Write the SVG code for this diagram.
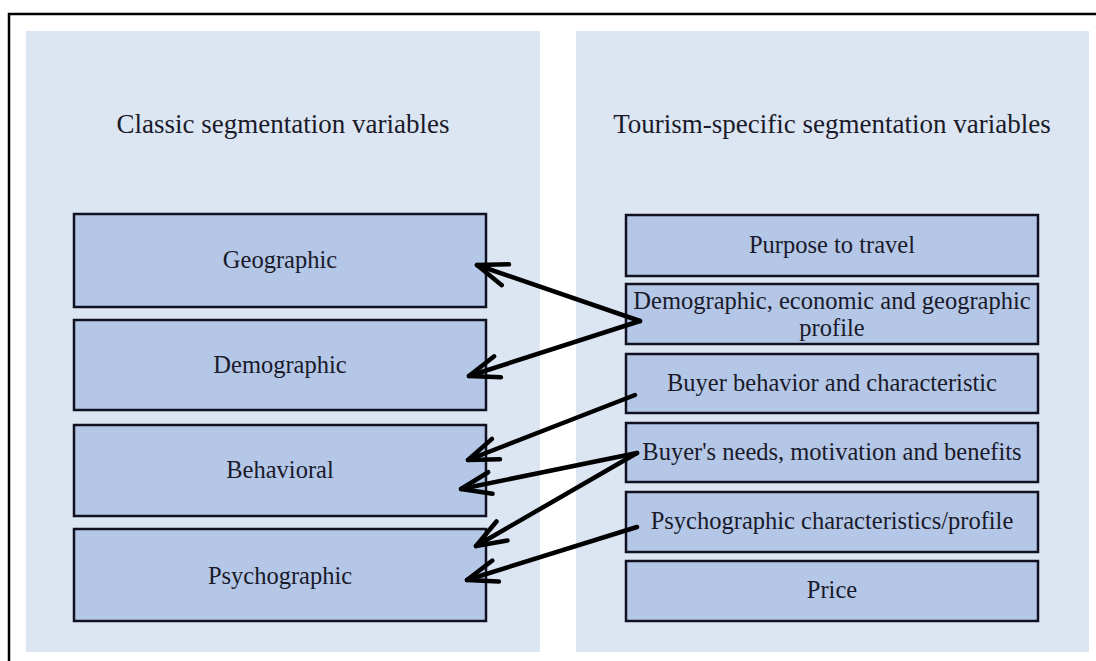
<svg xmlns="http://www.w3.org/2000/svg" width="1096" height="661" viewBox="0 0 1096 661">
<defs>
<style>
.panel{fill:#dce6f2;}
.box{fill:#b4c7e7;stroke:#111122;stroke-width:2.5;}
.t{font-family:"Liberation Serif","Times New Roman",serif;fill:#1a1a2a;text-anchor:middle;}
.title{font-size:27px;}
.lbl{font-size:24.5px;}
.arr{fill:none;stroke:#000;stroke-width:4.5;stroke-linecap:round;stroke-linejoin:round;}
</style>
<marker id="ah" viewBox="0 0 36 28" refX="33" refY="14" markerWidth="36" markerHeight="28" markerUnits="userSpaceOnUse" orient="auto">
<path d="M3,3 L33,14 L3,25" fill="none" stroke="#000" stroke-width="4.5" stroke-linecap="round" stroke-linejoin="round"/>
</marker>
</defs>
<rect x="0" y="0" width="1096" height="661" fill="#ffffff"/>
<rect x="9" y="14" width="1100" height="660" fill="none" stroke="#000" stroke-width="2.5"/>
<g id="panel-classic">
<rect class="panel" x="26" y="31" width="514" height="621"/>
<text class="t title" x="283" y="133">Classic segmentation variables</text>
</g>
<g id="panel-tourism">
<rect class="panel" x="576" y="31" width="513" height="621"/>
<text class="t title" x="832" y="133">Tourism-specific segmentation variables</text>
</g>
<g id="geographic"><rect class="box" x="74" y="214" width="412" height="93"/><text class="t lbl" x="280" y="268">Geographic</text></g>
<g id="demographic"><rect class="box" x="74" y="320" width="412" height="90"/><text class="t lbl" x="280" y="373">Demographic</text></g>
<g id="behavioral"><rect class="box" x="74" y="425" width="412" height="91"/><text class="t lbl" x="280" y="478">Behavioral</text></g>
<g id="psychographic"><rect class="box" x="74" y="529" width="412" height="92"/><text class="t lbl" x="280" y="584">Psychographic</text></g>
<g id="purpose"><rect class="box" x="626" y="215" width="412" height="61"/><text class="t lbl" x="832" y="253">Purpose to travel</text></g>
<g id="demo-profile"><rect class="box" x="626" y="284" width="412" height="60"/><text class="t lbl" x="832" y="309">Demographic, economic and geographic</text><text class="t lbl" x="832" y="336">profile</text></g>
<g id="buyer-behavior"><rect class="box" x="626" y="354" width="412" height="59"/><text class="t lbl" x="832" y="391">Buyer behavior and characteristic</text></g>
<g id="buyer-needs"><rect class="box" x="626" y="423" width="412" height="59"/><text class="t lbl" x="832" y="460">Buyer's needs, motivation and benefits</text></g>
<g id="psycho-profile"><rect class="box" x="626" y="492" width="412" height="60"/><text class="t lbl" x="832" y="529">Psychographic characteristics/profile</text></g>
<g id="price"><rect class="box" x="626" y="561" width="412" height="60"/><text class="t lbl" x="832" y="598">Price</text></g>
<g id="connectors">
<path class="arr" d="M640,321 L477,265" marker-end="url(#ah)"/>
<path class="arr" d="M640,321 L469,376" marker-end="url(#ah)"/>
<path class="arr" d="M635,395 L468,460" marker-end="url(#ah)"/>
<path class="arr" d="M637,453 L461,489" marker-end="url(#ah)"/>
<path class="arr" d="M637,453 L476,546" marker-end="url(#ah)"/>
<path class="arr" d="M637,527 L467,580" marker-end="url(#ah)"/>
</g>
</svg>
